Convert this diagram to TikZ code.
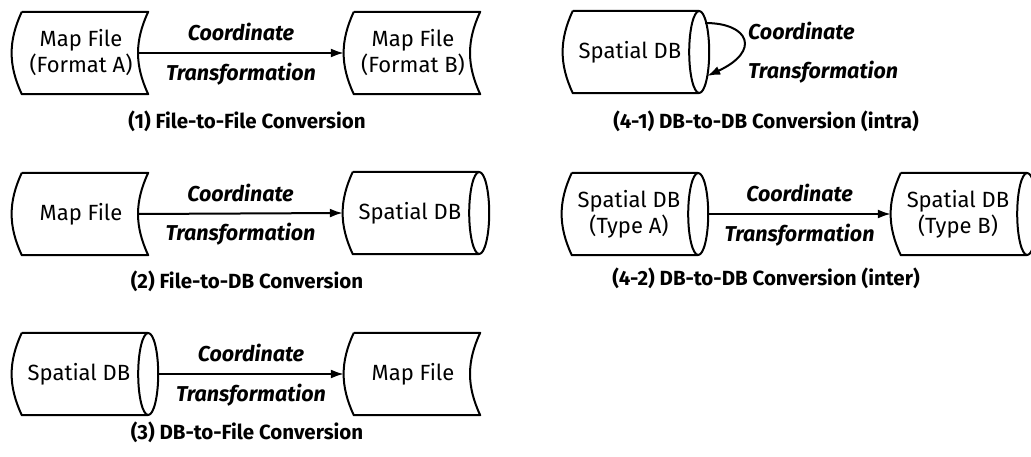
\documentclass[tikz,border=0pt]{standalone}
\usepackage{fontspec}
\setmainfont{Fira Sans}
\usepackage{tikz}
\usetikzlibrary{arrows.meta,calc}

\newcommand{\mapfile}[4]{%
  \node[boxshape] (#1) at (#2,#3) {};
  \node[boxtext] (#1-txt) at ($(#1)+(-4,0)$) {#4};
  \draw[shapeline] (#1.north west) -- (#1.north east) to[bend right=25] (#1.south east)
    -- (#1.south west) to[bend left=25] (#1.north west);
  \coordinate (#1-in) at ($(#1.west)+(-10,0)$);
  \coordinate (#1-out) at ($(#1.east)+(-10,0)$);
}
\newcommand{\spatialdb}[4]{%
  \node[boxshape] (#1) at (#2,#3) {};
  \node[boxtext] (#1-txt) at ($(#1)+(-6,0)$) {#4};
  \draw[shapeline] (#1.north east) -- (#1.north west)
    (#1.south east) -- (#1.south west) to[bend left=25] (#1.north west);
  \draw[shapeline] (#1.east) ellipse [x radius=10, y radius=41];
  \coordinate (#1-in) at ($(#1.west)+(-10,0)$);
  \coordinate (#1-out) at ($(#1.east)+(10,0)$);
}

\begin{document}
\begin{tikzpicture}[x=1pt,y=-1pt,
  boxshape/.style={minimum width=126pt,minimum height=82pt,inner sep=0pt},
  boxtext/.style={inner sep=0pt,align=center,font=\fontsize{22}{26}\selectfont},
  shapeline/.style={line width=2pt,line join=round},
  conv/.style={line width=2pt,-{Latex[length=13pt,width=9pt]}},
  lbl/.style={inner sep=0pt,font=\fontsize{21.5}{24}\selectfont\bfseries\itshape},
  caption/.style={font=\fontsize{20.5}{24}\selectfont\bfseries}]
  \fill[white] (0,0) rectangle (1031,457);
  \useasboundingbox (0,0) rectangle (1031,457);

  % (1)
  \mapfile{mf1a}{85}{53}{Map File\\(Format A)}
  \mapfile{mf1b}{417}{53}{Map File\\(Format B)}
  \draw[conv] (mf1a-out) -- node[lbl,above=11pt] (t1a) {Coordinate}
    node[lbl,below=9pt] (t1b) {Transformation} (mf1b-in);
  \node[caption] (cap1) at (247,121) {(1) File-to-File Conversion};

  % (2)
  \mapfile{mf2}{85}{214}{Map File}
  \spatialdb{db2}{416}{213}{Spatial DB}
  \draw[conv] (mf2-out) -- node[lbl,above=11pt] (t2a) {Coordinate}
    node[lbl,below=9pt] (t2b) {Transformation} (db2-in);
  \node[caption] (cap2) at (247,281) {(2) File-to-DB Conversion};

  % (3)
  \spatialdb{db3}{85}{374}{Spatial DB}
  \mapfile{mf3}{417}{374}{Map File}
  \draw[conv] (db3-out) -- node[lbl,above=11pt] (t3a) {Coordinate}
    node[lbl,below=9pt] (t3b) {Transformation} (mf3-in);
  \node[caption] (cap3) at (247,432) {(3) DB-to-File Conversion};

  % (4-1)
  \spatialdb{db41}{636}{52}{Spatial DB}
  \coordinate (db41-from) at ($(db41.east)+(6,-29)$);
  \coordinate (db41-to) at ($(db41.east)+(8,24)$);
  \draw[conv] (db41-from) .. controls +(44,0) and +(54,-25) .. (db41-to);
  \node[lbl,anchor=west] (t41a) at (748,31) {Coordinate};
  \node[lbl,anchor=west] (t41b) at (748,72) {Transformation};
  \node[caption] (cap41) at (766,121) {(4-1) DB-to-DB Conversion (intra)};

  % (4-2)
  \spatialdb{db42a}{635}{214}{Spatial DB\\(Type A)}
  \spatialdb{db42b}{964}{214}{Spatial DB\\(Type B)}
  \draw[conv] (db42a-out) -- node[lbl,above=11pt] (t42a) {Coordinate}
    node[lbl,below=9pt] (t42b) {Transformation} (db42b-in);
  \node[caption] (cap42) at (766,278) {(4-2) DB-to-DB Conversion (inter)};
\end{tikzpicture}
\end{document}
